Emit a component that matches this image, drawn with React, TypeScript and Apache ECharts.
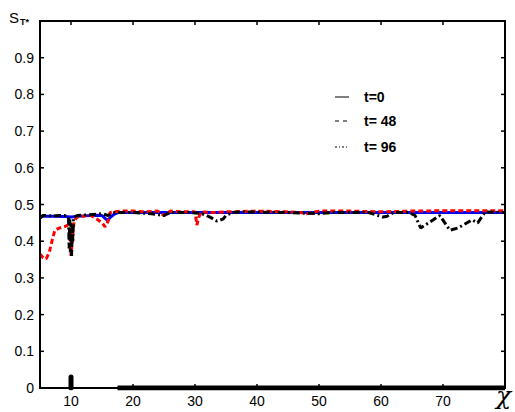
import React, { useEffect, useRef } from "react";
import * as echarts from "echarts";

const xTicks = [10, 20, 30, 40, 50, 60, 70];
const yTicks = [0, 0.1, 0.2, 0.3, 0.4, 0.5, 0.6, 0.7, 0.8, 0.9, 1];
const xRange = [5, 80];
const yRange = [0, 1];

const blueX = [5, 7, 9, 10, 12, 14, 15, 15.5, 15.9, 16.4, 17, 17.6, 20, 30, 40, 50, 60, 70, 80];
const blueY = [0.468, 0.468, 0.467, 0.466, 0.469, 0.471, 0.47, 0.462, 0.457, 0.466, 0.474, 0.478, 0.478, 0.478, 0.478, 0.478, 0.478, 0.478, 0.478];

const redX = [5, 5.5, 6, 6.5, 7, 7.4, 8, 8.5, 9, 9.5, 9.8, 10, 10.2, 10.5, 11, 12, 13, 14.2, 15, 15.5, 16, 16.3, 17, 18, 20, 22, 24, 25, 26, 28, 30, 30.3, 30.6, 31, 33, 35, 40, 45, 47, 48, 50, 55, 60, 65, 70, 75, 80];
const redY = [0.365, 0.355, 0.352, 0.37, 0.405, 0.43, 0.435, 0.438, 0.44, 0.444, 0.43, 0.36, 0.4, 0.455, 0.466, 0.468, 0.472, 0.46, 0.45, 0.439, 0.455, 0.478, 0.48, 0.482, 0.482, 0.48, 0.482, 0.47, 0.482, 0.48, 0.48, 0.444, 0.465, 0.48, 0.478, 0.48, 0.482, 0.48, 0.478, 0.475, 0.482, 0.482, 0.48, 0.482, 0.483, 0.483, 0.483];

const blackX = [5, 5.5, 6, 7, 8, 9, 9.6, 9.7, 9.8, 9.9, 10, 10.1, 10.2, 10.3, 10.4, 11, 13, 15, 16, 17, 20, 23, 25, 26, 29, 31, 32.5, 33.5, 34.5, 35, 36, 38, 45, 50, 52, 58, 60.3, 61, 62, 64.5, 65.5, 66.4, 69.5, 71.1, 72.4, 74.7, 75.6, 76.8, 80];
const blackY = [0.463, 0.47, 0.47, 0.468, 0.47, 0.47, 0.465, 0.38, 0.46, 0.37, 0.45, 0.36, 0.44, 0.4, 0.465, 0.47, 0.472, 0.475, 0.47, 0.478, 0.478, 0.475, 0.47, 0.478, 0.478, 0.476, 0.465, 0.455, 0.46, 0.47, 0.478, 0.48, 0.478, 0.475, 0.478, 0.478, 0.466, 0.468, 0.478, 0.478, 0.47, 0.436, 0.47, 0.43, 0.436, 0.458, 0.45, 0.48, 0.478];

const baseX = [17.5, 80];
const baseY = [0, 0];
const spikeX = [10, 10];
const spikeY = [0, 0.03];

const legendLabels = ["t=0", "t= 48", "t= 96"];

const zip = (xs: number[], ys: number[]) => xs.map((x, i) => [x, ys[i]]);

export default function App() {
  const ref = useRef<HTMLDivElement>(null);
  useEffect(() => {
    if (!ref.current) return;
    document.body.style.margin = "0";
    const chart = echarts.init(ref.current, null, { renderer: "svg" });
    const font = "Liberation Sans, Arial, sans-serif";
    const axisBase = {
      type: "value" as const,
      axisLine: { show: false },
      axisTick: { show: false },
      splitLine: { show: false },
    };
    const legendDash: any[] = [null, [4, 4], [2, 2, 1, 2]];
    const legendY = [97, 121, 147];
    const graphics: any[] = [];
    legendLabels.forEach((lab, i) => {
      graphics.push({
        type: "line",
        shape: { x1: 335, y1: legendY[i], x2: 349, y2: legendY[i] },
        style: { stroke: "#000", lineWidth: 1, lineDash: legendDash[i] },
      });
      graphics.push({
        type: "text",
        x: 364,
        y: legendY[i],
        style: { text: lab, font: `bold 14px ${font}`, fill: "#000", verticalAlign: "middle" },
      });
    });
    graphics.push({ type: "text", x: 9, y: 10, style: { text: "S", font: `15px ${font}`, fill: "#000" } });
    graphics.push({ type: "text", x: 20, y: 17, style: { text: "T*", font: `bold 9px ${font}`, fill: "#000" } });
    graphics.push({
      type: "text",
      x: 496,
      y: 383,
      style: { text: "χ", font: `italic 25px "DejaVu Serif", serif`, fill: "#000" },
    });

    // frame drawn as filled thin rectangles (grid box: left 40, top 21, right 505, bottom 388)
    const L = 40, T = 21, R = 505, B = 388;
    const bar = (x: number, y: number, w: number, h: number) => ({
      type: "rect",
      shape: { x, y, width: w, height: h },
      style: { fill: "#000" },
      z: 50,
    });
    graphics.push(bar(L - 1, T - 1, R - L + 2, 2));
    graphics.push(bar(L - 1, B - 1, R - L + 2, 2));
    graphics.push(bar(L - 1, T - 1, 2, B - T + 2));
    graphics.push(bar(R - 1, T - 1, 2, B - T + 2));

    const tickItem = (params: any, api: any) => {
      const tl = api.coord([xRange[0], yRange[1]]);
      const br = api.coord([xRange[1], yRange[0]]);
      const l = tl[0], t = tl[1], r = br[0], b = br[1];
      const len = 4;
      const children: any[] = [];
      xTicks.forEach((v) => {
        const px = api.coord([v, yRange[0]])[0];
        children.push({ type: "rect", shape: { x: px - 0.75, y: b - len, width: 1.5, height: len }, style: { fill: "#000" } });
        children.push({ type: "rect", shape: { x: px - 0.75, y: t, width: 1.5, height: len }, style: { fill: "#000" } });
      });
      yTicks.forEach((v) => {
        const py = api.coord([xRange[0], v])[1];
        children.push({ type: "rect", shape: { x: l, y: py - 0.75, width: len, height: 1.5 }, style: { fill: "#000" } });
        children.push({ type: "rect", shape: { x: r - len, y: py - 0.75, width: len, height: 1.5 }, style: { fill: "#000" } });
      });
      return { type: "group", children };
    };

    chart.setOption({
      animation: false,
      backgroundColor: "#fff",
      grid: { left: L, right: 515 - R, top: T, bottom: 412 - B },
      graphic: graphics,
      xAxis: {
        ...axisBase,
        min: xRange[0],
        max: xRange[1],
        position: "bottom",
        axisLabel: { customValues: xTicks, color: "#000", fontFamily: font, fontSize: 14, margin: 6 },
      },
      yAxis: {
        ...axisBase,
        min: yRange[0],
        max: yRange[1],
        interval: 0.1,
        position: "left",
        axisLabel: {
          color: "#000",
          fontFamily: font,
          fontSize: 14,
          margin: 6,
          formatter: (v: number) => (v >= 0.999 ? "" : String(Math.round(v * 10) / 10)),
        },
      },
      series: [
        {
          type: "line",
          data: zip(blueX, blueY),
          showSymbol: false,
          lineStyle: { color: "#0000ff", width: 3 },
        },
        {
          type: "line",
          data: zip(redX, redY),
          showSymbol: false,
          lineStyle: { color: "#ff0000", width: 3, type: [5, 3] },
        },
        {
          type: "line",
          data: zip(blackX, blackY),
          showSymbol: false,
          lineStyle: { color: "#000", width: 3, type: [7, 3, 2, 3] },
        },
        {
          type: "line",
          data: zip(baseX, baseY),
          showSymbol: false,
          lineStyle: { color: "#000", width: 5 },
        },
        {
          type: "line",
          data: zip(spikeX, spikeY),
          showSymbol: false,
          lineStyle: { color: "#000", width: 5, cap: "round" },
        },
        {
          type: "custom",
          clip: false,
          silent: true,
          z: 5,
          data: [[xRange[0], yRange[0]]],
          renderItem: tickItem,
        },
      ],
    });

    return () => chart.dispose();
  }, []);
  return <div ref={ref} style={{ width: 515, height: 412 }} />;
}
